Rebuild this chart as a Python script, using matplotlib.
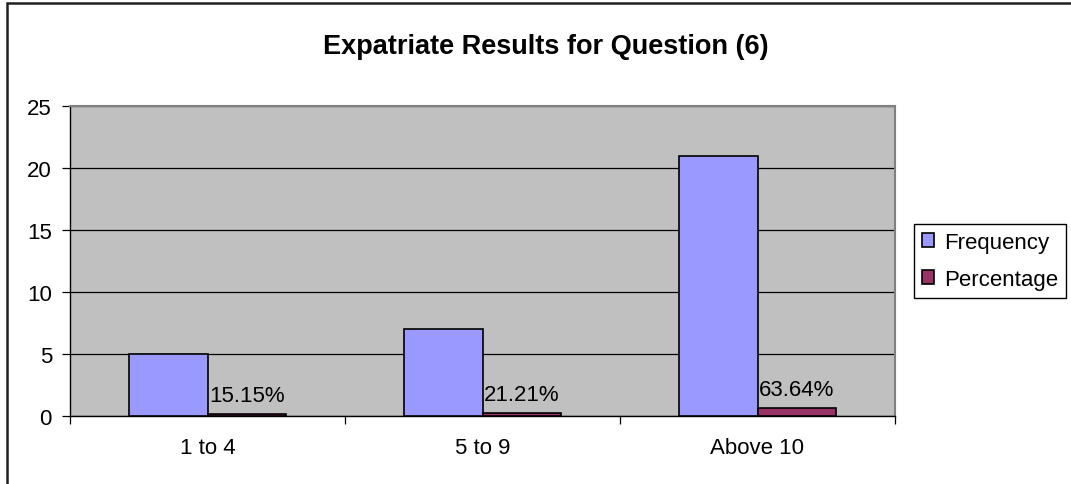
import matplotlib
matplotlib.use("Agg")
import matplotlib.pyplot as plt
import numpy as np
from matplotlib.patches import Rectangle

categories = ["1 to 4", "5 to 9", "Above 10"]
frequency = [5, 7, 21]
percentage = [0.1515, 0.2121, 0.6364]
pct_labels = ["15.15%", "21.21%", "63.64%"]
yticks = [0, 5, 10, 15, 20, 25]

plt.rcParams['font.family'] = ['Liberation Sans', 'DejaVu Sans']

W, H = 1071, 485
fig = plt.figure(figsize=(W / 100, H / 100), dpi=100)
ax = fig.add_axes([70 / W, 1 - 417 / H, (895 - 70) / W, (417 - 107) / H])
ax.set_facecolor('#C0C0C0')

x = np.arange(len(categories))
w = 1 / 3.5
ax.bar(x - w / 2, frequency, w, color='#9999FF', edgecolor='black', linewidth=1.2,
       label='Frequency', zorder=3)
bars = ax.bar(x + w / 2, percentage, w, color='#993366', edgecolor='black', linewidth=1.2,
              label='Percentage', zorder=3)
for b, t in zip(bars, pct_labels):
    ax.annotate(t, (b.get_x() + b.get_width() / 2, b.get_height()), xytext=(0, 6),
                textcoords='offset points', ha='center', va='bottom', fontsize=16,
                color='black', zorder=4)

ax.set_xlim(-0.5, len(categories) - 0.5)
ax.set_ylim(0, 25)
ax.set_yticks(yticks)
ax.yaxis.grid(True, color='black', linewidth=0.9, zorder=1)
ax.set_axisbelow(True)
ax.tick_params(axis='y', direction='out', length=6, width=0.9, labelsize=16, pad=7)

ax.set_xticks(np.arange(-0.5, len(categories), 1.0))
ax.set_xticklabels([])
ax.set_xticks(x, minor=True)
ax.set_xticklabels(categories, minor=True)
ax.tick_params(axis='x', which='major', direction='out', length=6, width=0.9)
ax.tick_params(axis='x', which='minor', length=0, labelsize=16, pad=15)

for s in ['left', 'bottom']:
    ax.spines[s].set_color('black')
    ax.spines[s].set_linewidth(1.0)
for s in ['top', 'right']:
    ax.spines[s].set_color('#808080')
    ax.spines[s].set_linewidth(1.5)

fig.text(546 / W, 1 - 47 / H, "Expatriate Results for Question (6)", ha='center', va='center',
         fontsize=19.5, fontweight='bold')

leg = fig.legend(loc='upper left', bbox_to_anchor=(914 / W, 1 - 225 / H), fontsize=16,
                 frameon=True, fancybox=False, edgecolor='black', framealpha=1,
                 handlelength=0.55, handleheight=0.55, handletextpad=0.45, borderpad=0.35,
                 labelspacing=0.72, borderaxespad=0)
leg.get_frame().set_linewidth(1.0)

fig.patches.append(Rectangle((7 / W, -0.05), 1.1, 1 - 4 / H + 0.05, transform=fig.transFigure,
                             fill=False, edgecolor='#202020', linewidth=1.8))

fig.savefig('out.png', dpi=100)
